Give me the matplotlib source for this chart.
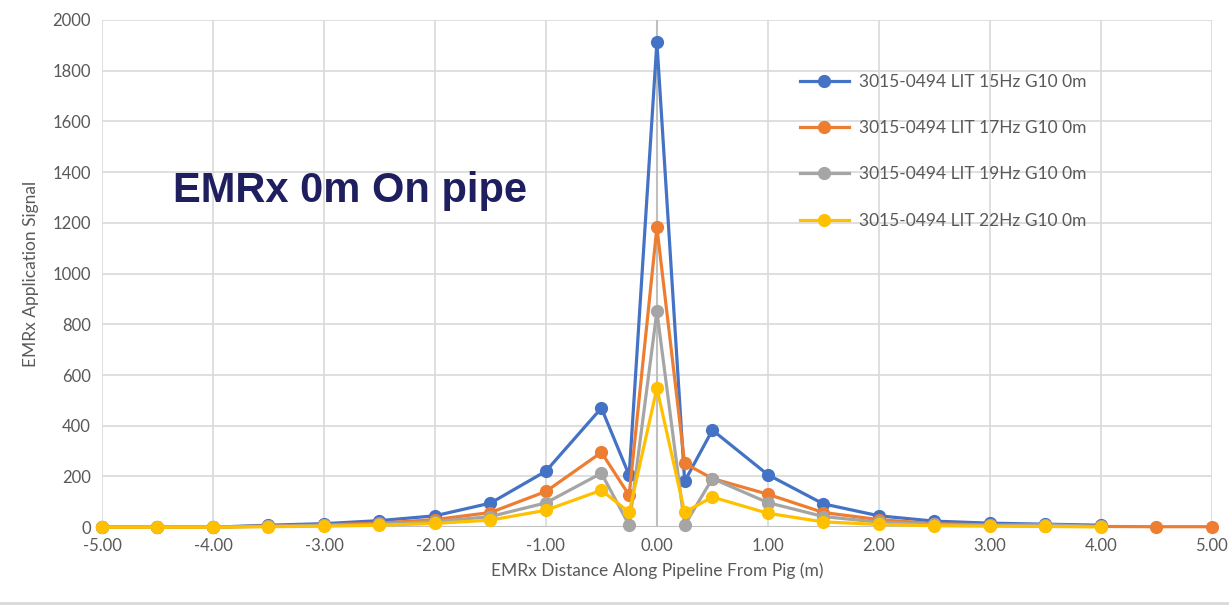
import matplotlib
matplotlib.use("Agg")
import matplotlib.pyplot as plt

# Distance along pipeline (m)
x_all = [-5, -4.5, -4, -3.5, -3, -2.5, -2, -1.5, -1, -0.5, -0.25, 0, 0.25,
         0.5, 1, 1.5, 2, 2.5, 3, 3.5, 4, 4.5, 5]
x_short = x_all[:-2]  # series that stop at 4.00

hz15 = [0, 0, 0, 8, 14, 26, 45, 95, 221, 470, 205, 1913, 181,
        383, 207, 92, 45, 24, 16, 12, 8]
hz17 = [0, 0, 0, 5, 9, 16, 30, 58, 141, 295, 126, 1182, 252,
        192, 130, 58, 30, 14, 9, 6, 3, 2, 2]
hz19 = [0, 0, 0, 4, 7, 12, 22, 42, 96, 213, 8, 851, 8,
        192, 97, 42, 20, 11, 7, 10, 3]
hz22 = [0, 0, 0, 2, 4, 8, 15, 28, 67, 146, 59, 548, 59,
        119, 55, 21, 11, 6, 4, 3, 1]

labels = ["3015-0494 LIT 15Hz G10 0m", "3015-0494 LIT 17Hz G10 0m",
          "3015-0494 LIT 19Hz G10 0m", "3015-0494 LIT 22Hz G10 0m"]
colors = ["#4472C4", "#ED7D31", "#A5A5A5", "#FFC000"]

plt.rcParams["font.family"] = ["Lato", "DejaVu Sans"]

fig = plt.figure(figsize=(12.29, 6.06), dpi=100)
ax = fig.add_axes([0.083, 0.130, 0.903, 0.837])

series = [(x_short, hz15), (x_all, hz17), (x_short, hz19), (x_short, hz22)]
for (xs, ys), lab, c in zip(series, labels, colors):
    ax.plot(xs, ys, color=c, lw=2.3, marker="o", ms=8.5, label=lab,
            zorder=3, clip_on=False)

ax.set_xlim(-5, 5)
ax.set_ylim(0, 2000)
ax.set_xticks(range(-5, 6))
ax.set_xticklabels([f"{v:.2f}" for v in range(-5, 6)])
ax.set_yticks(range(0, 2001, 200))
ax.grid(True, color="#D9D9D9", lw=1.2)
ax.set_axisbelow(True)
ax.axvline(0, color="#BFBFBF", lw=1.5, zorder=1)
for s in ax.spines.values():
    s.set_visible(False)
ax.axhline(0, color="#BFBFBF", lw=1.5, zorder=1)
ax.tick_params(length=0, labelsize=12, labelcolor="#595959", pad=8)

ax.set_xlabel("EMRx Distance Along Pipeline From Pig (m)", fontsize=12.5,
              color="#595959", labelpad=6)
ax.set_ylabel("EMRx Application Signal", fontsize=12.5, color="#595959",
              labelpad=10)

ax.text(-4.36, 1325, "EMRx 0m On pipe", fontsize=30, fontweight="bold",
        color="#1F1F5F", family="Liberation Sans", va="center")

ax.legend(loc="upper left", bbox_to_anchor=(0.615, 0.925), frameon=False,
          fontsize=12.5, labelspacing=1.75, handlelength=2.8,
          handletextpad=0.6, labelcolor="#595959")

fig.add_artist(plt.Line2D([0, 1], [0.005, 0.005], color="#D9D9D9", lw=2,
                          transform=fig.transFigure))

fig.savefig("out.png", dpi=100)
